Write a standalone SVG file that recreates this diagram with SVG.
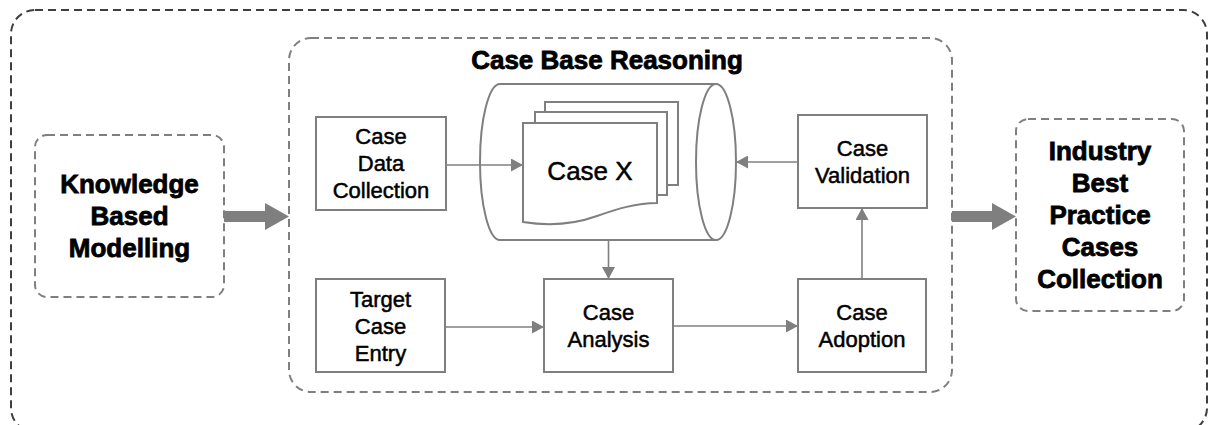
<svg xmlns="http://www.w3.org/2000/svg" width="1208" height="425" viewBox="0 0 1208 425">
  <style>
    .frame-outer { fill: none; stroke: #3f3f3f; stroke-width: 2; stroke-dasharray: 8 5; }
    .frame { fill: none; stroke: #7f7f7f; stroke-width: 2; stroke-dasharray: 8 5; }
    .box { fill: #ffffff; stroke: #7f7f7f; stroke-width: 2; }
    .link { fill: none; stroke: #7f7f7f; stroke-width: 1.6; }
    .big { font-family: "Liberation Sans", Arial, sans-serif; font-weight: bold; font-size: 26px; fill: #000; stroke: #000; stroke-width: 0.8; text-anchor: middle; }
    .lbl { font-family: "Liberation Sans", Arial, sans-serif; font-size: 22px; fill: #000; stroke: #000; stroke-width: 0.5; text-anchor: middle; }
    .lbl-lg { font-family: "Liberation Sans", Arial, sans-serif; font-size: 26px; fill: #000; stroke: #000; stroke-width: 0.5; text-anchor: middle; }
  </style>
  <defs>
    <marker id="arrow" viewBox="0 0 12 13" refX="12" refY="6.5" markerWidth="12" markerHeight="13" markerUnits="userSpaceOnUse" orient="auto">
      <path d="M0,0 L12,6.5 L0,13 Z" fill="#7f7f7f"/>
    </marker>
  </defs>

  <!-- outer frame -->
  <rect class="frame-outer" x="11" y="10" width="1196" height="422" rx="24"/>

  <!-- case base reasoning container -->
  <g id="cbr">
    <rect class="frame" x="289" y="38" width="663" height="354" rx="22"/>
    <text class="big" x="607" y="69">Case Base Reasoning</text>
  </g>

  <!-- knowledge based modelling -->
  <g id="knowledge">
    <rect class="frame" x="35" y="135" width="189" height="162" rx="12"/>
    <text class="big" x="129.5" y="193">Knowledge</text>
    <text class="big" x="129.5" y="225">Based</text>
    <text class="big" x="129.5" y="257">Modelling</text>
  </g>

  <!-- industry best practice cases collection -->
  <g id="industry">
    <rect class="frame" x="1016" y="119" width="168" height="192" rx="12"/>
    <text class="big" x="1100" y="160">Industry</text>
    <text class="big" x="1100" y="192">Best</text>
    <text class="big" x="1100" y="224">Practice</text>
    <text class="big" x="1100" y="256">Cases</text>
    <text class="big" x="1100" y="288">Collection</text>
  </g>

  <!-- case repository: cylinder with stacked documents -->
  <g id="repository">
    <path d="M716,84 L500,84 A20,78 0 0 0 500,240 L716,240" fill="#ffffff" stroke="#7f7f7f" stroke-width="2"/>
    <ellipse cx="716" cy="162" rx="20" ry="78" fill="#ffffff" stroke="#7f7f7f" stroke-width="2"/>
    <rect class="box" x="545" y="102" width="133" height="83"/>
    <rect class="box" x="535" y="112" width="132" height="83"/>
    <path class="box" d="M523,123 H657 V203 C636,203 617,209 597,216 C572,225 548,226 523,222 Z"/>
    <text class="lbl-lg" x="590" y="180">Case X</text>
  </g>

  <g id="data-collection">
    <rect class="box" x="316" y="117" width="130" height="93"/>
    <text class="lbl" x="381" y="144">Case</text>
    <text class="lbl" x="381" y="171">Data</text>
    <text class="lbl" x="381" y="198">Collection</text>
  </g>

  <g id="target-entry">
    <rect class="box" x="316" y="279" width="129" height="93"/>
    <text class="lbl" x="380.5" y="307">Target</text>
    <text class="lbl" x="380.5" y="334">Case</text>
    <text class="lbl" x="380.5" y="361">Entry</text>
  </g>

  <g id="analysis">
    <rect class="box" x="544" y="279" width="129" height="93"/>
    <text class="lbl" x="608.5" y="320">Case</text>
    <text class="lbl" x="608.5" y="347">Analysis</text>
  </g>

  <g id="adoption">
    <rect class="box" x="798" y="279" width="128" height="93"/>
    <text class="lbl" x="862" y="320">Case</text>
    <text class="lbl" x="862" y="347">Adoption</text>
  </g>

  <g id="validation">
    <rect class="box" x="798" y="115" width="129" height="93"/>
    <text class="lbl" x="862.5" y="156">Case</text>
    <text class="lbl" x="862.5" y="183">Validation</text>
  </g>

  <!-- connectors -->
  <g id="connectors">
    <line class="link" x1="446" y1="165" x2="523" y2="165" marker-end="url(#arrow)"/>
    <line class="link" x1="798" y1="162" x2="736" y2="162" marker-end="url(#arrow)"/>
    <line class="link" x1="608.5" y1="240" x2="608.5" y2="279" marker-end="url(#arrow)"/>
    <line class="link" x1="445" y1="327" x2="544" y2="327" marker-end="url(#arrow)"/>
    <line class="link" x1="673" y1="326" x2="798" y2="326" marker-end="url(#arrow)"/>
    <line class="link" x1="862" y1="279" x2="862" y2="208" marker-end="url(#arrow)"/>
    <!-- block arrows between stages -->
    <path d="M224,211 H265 V203 L289,216.5 L265,230 V222 H224 Z" fill="#7f7f7f"/>
    <path d="M952,211 H992 V203 L1016,216.5 L992,230 V222 H952 Z" fill="#7f7f7f"/>
  </g>
</svg>
